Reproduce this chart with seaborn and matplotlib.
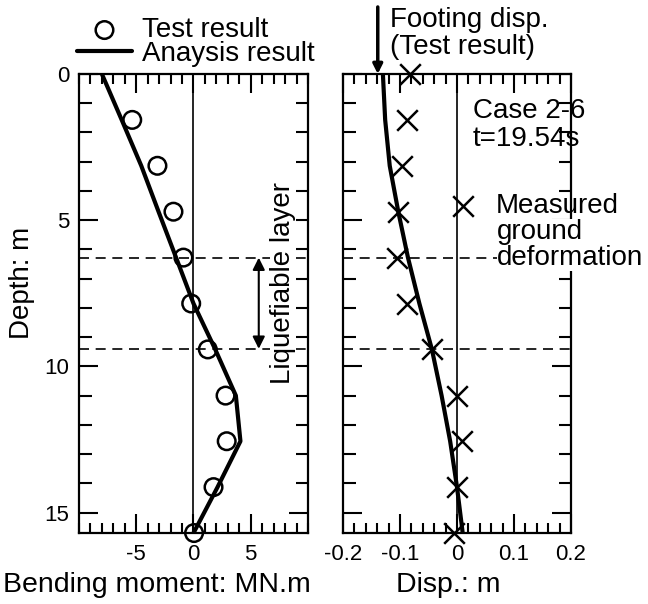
import numpy as np
import pandas as pd
import seaborn as sns
import matplotlib.pyplot as plt
from matplotlib.ticker import MultipleLocator

# depths of the measuring points (m)
depth = [0.0, 1.57, 3.14, 4.71, 6.28, 7.85, 9.42, 11.0, 12.56, 14.13, 15.7]

# bending moment (MN.m)
moment_test_depth = [1.57, 3.14, 4.71, 6.28, 7.85, 9.42, 11.0, 12.56, 14.13, 15.7]
moment_test = [-5.35, -3.15, -1.75, -0.88, -0.2, 1.25, 2.8, 2.9, 1.75, 0.05]
moment_calc = [-8.0, -6.27, -4.56, -3.05, -1.52, 0.0, 1.9, 3.7, 4.1, 2.1, 0.0]

# displacement (m)
disp_ground = [-0.082, -0.088, -0.097, -0.104, -0.105, -0.088, -0.044, 0.0, 0.008, 0.0, -0.005]
disp_calc = [-0.130, -0.126, -0.118, -0.103, -0.086, -0.066, -0.044, -0.027, -0.012, 0.0, 0.010]
footing_disp = -0.139

liq_top, liq_bottom = 6.28, 9.4
disp_ticks = [-0.2, -0.1, 0, 0.1, 0.2]
disp_labels = ["-0.2", "-0.1", "0", "0.1", "0.2"]

sns.set_style("ticks")
plt.rcParams['font.family'] = ['Liberation Sans', 'DejaVu Sans']
plt.rcParams['axes.unicode_minus'] = False
plt.rcParams['axes.linewidth'] = 1.6
for k in ('text.color', 'axes.labelcolor', 'xtick.color', 'ytick.color', 'axes.edgecolor'):
    plt.rcParams[k] = 'black'

fig = plt.figure(figsize=(6.48, 6.04), dpi=100)
ax1 = fig.add_axes([0.1219, 0.1175, 0.3534, 0.760])
ax2 = fig.add_axes([0.5293, 0.1175, 0.3519, 0.760])

dash = dict(color='black', lw=1.2, ls=(0, (6, 4)), zorder=1)

# --- Bending moment ---
sns.scatterplot(x=moment_test, y=moment_test_depth, ax=ax1, marker='o', s=160,
                facecolor='none', edgecolor='black', linewidth=1.8,
                label='Test result', zorder=3, clip_on=False)
sns.lineplot(x=moment_calc, y=depth, ax=ax1, orient='y', estimator=None,
             color='black', lw=3, label='Anaysis result', zorder=4)
ax1.axvline(0, color='black', lw=1.2, zorder=1)
ax1.axhline(liq_top, **dash)
ax1.axhline(liq_bottom, **dash)
ax1.annotate('', xy=(5.7, liq_top), xytext=(5.7, liq_bottom),
             arrowprops=dict(arrowstyle='<|-|>', color='black', lw=1.5,
                             mutation_scale=18, shrinkA=0, shrinkB=0))
ax1.text(0.89, 0.545, 'Liquefiable layer', rotation=90, ha='center', va='center',
         fontsize=20, transform=ax1.transAxes, zorder=5,
         bbox=dict(facecolor='white', edgecolor='none', pad=0))

ax1.set_xlim(-10, 10)
ax1.set_ylim(15.7, 0)
ax1.set_xticks([-5, 0, 5])
ax1.xaxis.set_minor_locator(MultipleLocator(1))
ax1.set_yticks([0, 5, 10, 15])
ax1.yaxis.set_minor_locator(MultipleLocator(1))
ax1.set_xlabel('Bending moment: MN.m', fontsize=20.5)
ax1.set_ylabel('Depth: m', fontsize=20)
ax1.xaxis.set_label_coords(0.34, -0.085)
ax1.yaxis.set_label_coords(-0.19, 0.545)

leg1 = ax1.legend(loc='lower left', bbox_to_anchor=(-0.01, 1.015), frameon=False,
                  fontsize=20, handlelength=2.0, handletextpad=0.35,
                  labelspacing=-0.08, borderpad=0, borderaxespad=0)

# --- Displacement ---
sns.lineplot(x=disp_calc, y=depth, ax=ax2, orient='y', estimator=None,
             color='black', lw=3, zorder=4)
sns.scatterplot(x=disp_ground, y=depth, ax=ax2, marker='x', s=220, color='black',
                linewidth=1.8, label='Measured', zorder=3, clip_on=False)
ax2.axvline(0, color='black', lw=1.2, zorder=1)
ax2.axhline(liq_top, **dash)
ax2.axhline(liq_bottom, **dash)

ax2.annotate('', xy=(footing_disp, 0), xycoords='data',
             xytext=(footing_disp, 1.146), textcoords=('data', 'axes fraction'),
             arrowprops=dict(arrowstyle='-|>', color='black', lw=2.5,
                             mutation_scale=14, shrinkA=0, shrinkB=0),
             annotation_clip=False)
ax2.text(0.206, 1.146, 'Footing disp.\n(Test result)', transform=ax2.transAxes,
         ha='left', va='top', fontsize=20, linespacing=1.05)
ax2.text(0.57, 0.948, 'Case 2-6\nt=19.54s', transform=ax2.transAxes,
         ha='left', va='top', fontsize=20, linespacing=1.13)

ax2.set_xlim(-0.2, 0.2)
ax2.set_ylim(15.7, 0)
ax2.set_xticks(disp_ticks)
ax2.set_xticklabels(disp_labels)
ax2.xaxis.set_minor_locator(MultipleLocator(0.02))
ax2.set_yticks([0, 5, 10, 15])
ax2.yaxis.set_minor_locator(MultipleLocator(1))
ax2.set_xlabel('Disp.: m', fontsize=20.5)
ax2.set_ylabel('')
ax2.xaxis.set_label_coords(0.46, -0.085)
ax2.tick_params(labelleft=False)

leg2 = ax2.legend(loc='upper left', bbox_to_anchor=(0.465, 0.74), frameon=False,
                  fontsize=20, handlelength=1.0, handletextpad=0.7,
                  borderpad=0, borderaxespad=0)
ax2.text(0.675, 0.685, 'ground\ndeformation', transform=ax2.transAxes,
         ha='left', va='top', fontsize=20, linespacing=1.03, clip_on=False,
         bbox=dict(facecolor='white', edgecolor='none', pad=0))

for ax in (ax1, ax2):
    ax.tick_params(which='both', direction='in', top=True, right=True,
                   width=1.5, labelsize=16, colors='black')
    ax.tick_params(axis='x', pad=8)
    ax.tick_params(axis='y', pad=7)
    ax.tick_params(which='major', length=14)
    ax.tick_params(axis='x', which='minor', length=7)
    ax.tick_params(axis='y', which='minor', length=9)

plt.savefig('out.png', dpi=100)
plt.close()
